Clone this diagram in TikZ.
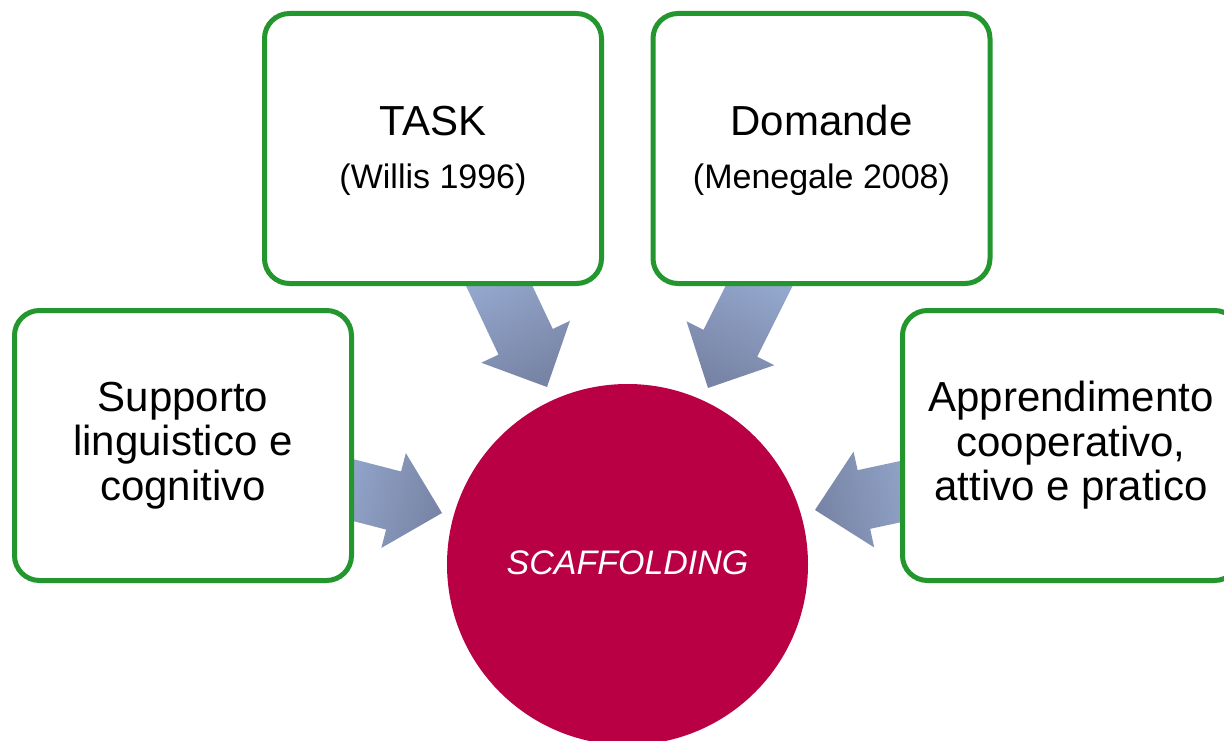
\documentclass[tikz,border=0pt]{standalone}
\usepackage{fontspec}
\setmainfont{Liberation Sans}
\usetikzlibrary{calc}
\definecolor{boxgreen}{RGB}{35,150,45}
\definecolor{scafred}{RGB}{185,0,68}
\definecolor{arrlight}{RGB}{150,170,208}
\definecolor{arrdark}{RGB}{120,132,165}
\tikzset{
  box/.style={draw=boxgreen, line width=5pt, rounded corners=25pt, fill=white,
    minimum width=337pt, minimum height=270pt, inner sep=0pt, align=center,
    font=\fontsize{42}{44.5}\selectfont},
  titletext/.style={anchor=base, font=\fontsize{42}{44.5}\selectfont},
  subtext/.style={anchor=base, font=\fontsize{34}{40}\selectfont},
  arrowfill/.style={shading=axis, top color=arrlight, bottom color=arrdark},
  hub/.style={circle, fill=scafred, minimum size=361pt, inner sep=0pt,
    text=white, font=\fontsize{34}{40}\selectfont\itshape},
}
\newcommand\blockarrow[3]{%
  \coordinate (h) at ($(#2)!50pt!(#1)$);
  \shade[arrowfill, shading angle=#3]
    ($(#1)!30pt!90:(#2)$) -- ($(h)!30pt!90:(#2)$) -- ($(h)!49pt!90:(#2)$) --
    (#2) -- ($(h)!49pt!-90:(#2)$) -- ($(h)!30pt!-90:(#2)$) --
    ($(#1)!30pt!-90:(#2)$) -- cycle;}
\begin{document}
\begin{tikzpicture}[x=1pt,y=-1pt]
  \useasboundingbox (0,0) rectangle (1224,741);
  \clip (0,0) rectangle (1224,741);
  \fill[white] (0,0) rectangle (1224,741);
  % arrow coordinates
  \coordinate (ltail) at (329.6,484);
  \coordinate (ltip) at (442,513);
  \coordinate (rtail) at (930,485.3);
  \coordinate (rtip) at (815,510);
  \coordinate (tltail) at (491.8,270.2);
  \coordinate (tltip) at (547,387);
  \coordinate (trtail) at (765.8,272.5);
  \coordinate (trtip) at (708,388);
  \blockarrow{ltail}{ltip}{75.5}
  \blockarrow{rtail}{rtip}{-77.9}
  \blockarrow{tltail}{tltip}{25.3}
  \blockarrow{trtail}{trtip}{-26.6}
  % boxes
  \node[box] (task) at (433,148.5) {};
  \node[titletext] (tasktitle) at (433,136) {TASK};
  \node[subtext] (tasksub) at (433,189) {(Willis 1996)};
  \node[box] (dom) at (821.5,148.5) {};
  \node[titletext] (domtitle) at (821.5,136) {Domande};
  \node[subtext] (domsub) at (821.5,189) {(Menegale 2008)};
  \node[box] (supp) at (183,445.5) {Supporto\\linguistico e\\cognitivo};
  \node[box] (appr) at (1071,445.5) {Apprendimento\\cooperativo,\\attivo e pratico};
  % hub
  \node[hub] (scaf) at (627.5,564.5) {\raisebox{3pt}{SCAFFOLDING}};
\end{tikzpicture}
\end{document}
